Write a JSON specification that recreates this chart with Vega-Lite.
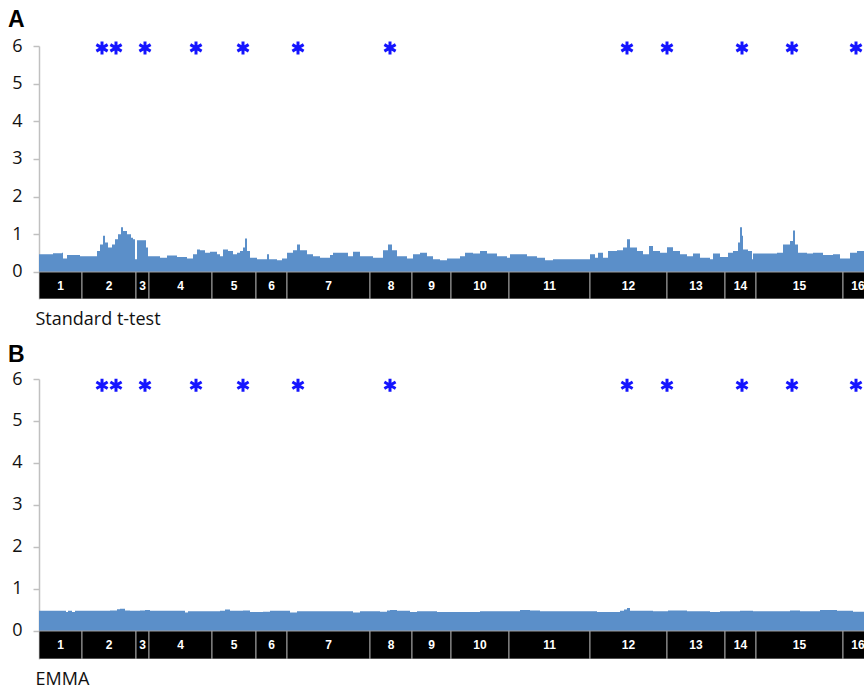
{
  "$schema": "https://vega.github.io/schema/vega-lite/v6.json",
  "padding": {"left": 8, "top": 9, "right": 0, "bottom": 5},
  "background": "white",
  "config": {"view": {"stroke": null}, "font": "Open Sans"},
  "datasets": {
    "tA": [
      {"pos": 0, "lod": 0.47}, {"pos": 11, "lod": 0.47}, {"pos": 14, "lod": 0.5}, {"pos": 23, "lod": 0.51}, {"pos": 24, "lod": 0.36},
      {"pos": 28, "lod": 0.45}, {"pos": 41, "lod": 0.42}, {"pos": 51, "lod": 0.42}, {"pos": 58, "lod": 0.56}, {"pos": 61, "lod": 0.73},
      {"pos": 64, "lod": 0.96}, {"pos": 66, "lod": 0.78}, {"pos": 69, "lod": 0.65}, {"pos": 73, "lod": 0.73}, {"pos": 76, "lod": 0.87},
      {"pos": 79, "lod": 1.0}, {"pos": 82, "lod": 1.19}, {"pos": 84, "lod": 1.09}, {"pos": 88, "lod": 1.0}, {"pos": 92, "lod": 0.91},
      {"pos": 94, "lod": 0.87}, {"pos": 96, "lod": 0.34}, {"pos": 98, "lod": 0.84}, {"pos": 104, "lod": 0.84}, {"pos": 107, "lod": 0.65},
      {"pos": 109, "lod": 0.42}, {"pos": 114, "lod": 0.42}, {"pos": 121, "lod": 0.38}, {"pos": 128, "lod": 0.44}, {"pos": 138, "lod": 0.4},
      {"pos": 148, "lod": 0.36}, {"pos": 154, "lod": 0.47}, {"pos": 158, "lod": 0.6}, {"pos": 161, "lod": 0.58}, {"pos": 166, "lod": 0.51},
      {"pos": 171, "lod": 0.54}, {"pos": 178, "lod": 0.47}, {"pos": 181, "lod": 0.42}, {"pos": 184, "lod": 0.6}, {"pos": 189, "lod": 0.56},
      {"pos": 194, "lod": 0.47}, {"pos": 198, "lod": 0.51}, {"pos": 201, "lod": 0.56}, {"pos": 204, "lod": 0.65}, {"pos": 206, "lod": 0.89},
      {"pos": 208, "lod": 0.56}, {"pos": 211, "lod": 0.38}, {"pos": 218, "lod": 0.34}, {"pos": 226, "lod": 0.34}, {"pos": 228, "lod": 0.47},
      {"pos": 230, "lod": 0.34}, {"pos": 238, "lod": 0.31}, {"pos": 243, "lod": 0.36}, {"pos": 248, "lod": 0.51}, {"pos": 254, "lod": 0.58},
      {"pos": 258, "lod": 0.73}, {"pos": 261, "lod": 0.58}, {"pos": 268, "lod": 0.47}, {"pos": 274, "lod": 0.42}, {"pos": 281, "lod": 0.38},
      {"pos": 291, "lod": 0.45}, {"pos": 294, "lod": 0.51}, {"pos": 308, "lod": 0.51}, {"pos": 309, "lod": 0.42}, {"pos": 314, "lod": 0.54},
      {"pos": 321, "lod": 0.42}, {"pos": 334, "lod": 0.38}, {"pos": 344, "lod": 0.58}, {"pos": 349, "lod": 0.73}, {"pos": 353, "lod": 0.58},
      {"pos": 358, "lod": 0.42}, {"pos": 368, "lod": 0.36}, {"pos": 374, "lod": 0.47}, {"pos": 381, "lod": 0.51}, {"pos": 388, "lod": 0.42},
      {"pos": 394, "lod": 0.34}, {"pos": 401, "lod": 0.31}, {"pos": 408, "lod": 0.36}, {"pos": 421, "lod": 0.42}, {"pos": 426, "lod": 0.51},
      {"pos": 434, "lod": 0.49}, {"pos": 441, "lod": 0.56}, {"pos": 448, "lod": 0.49}, {"pos": 458, "lod": 0.42}, {"pos": 468, "lod": 0.38},
      {"pos": 471, "lod": 0.47}, {"pos": 488, "lod": 0.42}, {"pos": 498, "lod": 0.38}, {"pos": 506, "lod": 0.31}, {"pos": 514, "lod": 0.34},
      {"pos": 531, "lod": 0.34}, {"pos": 548, "lod": 0.34}, {"pos": 551, "lod": 0.47}, {"pos": 556, "lod": 0.38}, {"pos": 559, "lod": 0.51},
      {"pos": 564, "lod": 0.38}, {"pos": 569, "lod": 0.56}, {"pos": 578, "lod": 0.58}, {"pos": 584, "lod": 0.65}, {"pos": 588, "lod": 0.87},
      {"pos": 591, "lod": 0.65}, {"pos": 598, "lod": 0.56}, {"pos": 604, "lod": 0.47}, {"pos": 610, "lod": 0.69}, {"pos": 614, "lod": 0.56},
      {"pos": 621, "lod": 0.51}, {"pos": 628, "lod": 0.66}, {"pos": 634, "lod": 0.56}, {"pos": 641, "lod": 0.47}, {"pos": 648, "lod": 0.42},
      {"pos": 654, "lod": 0.49}, {"pos": 661, "lod": 0.38}, {"pos": 671, "lod": 0.34}, {"pos": 674, "lod": 0.49}, {"pos": 681, "lod": 0.4},
      {"pos": 689, "lod": 0.51}, {"pos": 694, "lod": 0.56}, {"pos": 699, "lod": 0.78}, {"pos": 701, "lod": 1.19}, {"pos": 703, "lod": 0.96},
      {"pos": 704, "lod": 0.6}, {"pos": 709, "lod": 0.56}, {"pos": 713, "lod": 0.34}, {"pos": 714, "lod": 0.49}, {"pos": 728, "lod": 0.49},
      {"pos": 738, "lod": 0.51}, {"pos": 744, "lod": 0.73}, {"pos": 751, "lod": 0.82}, {"pos": 754, "lod": 1.1}, {"pos": 756, "lod": 0.73},
      {"pos": 759, "lod": 0.51}, {"pos": 768, "lod": 0.49}, {"pos": 774, "lod": 0.51}, {"pos": 784, "lod": 0.45}, {"pos": 794, "lod": 0.47},
      {"pos": 801, "lod": 0.36}, {"pos": 811, "lod": 0.51}, {"pos": 818, "lod": 0.56}, {"pos": 825, "lod": 0.55}
    ],
    "eB": [
      {"pos": 0, "lod": 0.48}, {"pos": 24, "lod": 0.48}, {"pos": 27, "lod": 0.45}, {"pos": 29, "lod": 0.48}, {"pos": 33, "lod": 0.45},
      {"pos": 36, "lod": 0.48}, {"pos": 71, "lod": 0.49}, {"pos": 78, "lod": 0.52}, {"pos": 81, "lod": 0.53}, {"pos": 86, "lod": 0.49},
      {"pos": 91, "lod": 0.48}, {"pos": 101, "lod": 0.49}, {"pos": 106, "lod": 0.5}, {"pos": 111, "lod": 0.48}, {"pos": 143, "lod": 0.48},
      {"pos": 146, "lod": 0.44}, {"pos": 149, "lod": 0.47}, {"pos": 174, "lod": 0.47}, {"pos": 181, "lod": 0.48}, {"pos": 186, "lod": 0.51},
      {"pos": 191, "lod": 0.48}, {"pos": 204, "lod": 0.49}, {"pos": 211, "lod": 0.45}, {"pos": 224, "lod": 0.46}, {"pos": 231, "lod": 0.48},
      {"pos": 248, "lod": 0.48}, {"pos": 251, "lod": 0.44}, {"pos": 258, "lod": 0.47}, {"pos": 311, "lod": 0.47}, {"pos": 314, "lod": 0.44},
      {"pos": 321, "lod": 0.47}, {"pos": 341, "lod": 0.46}, {"pos": 348, "lod": 0.49}, {"pos": 351, "lod": 0.5}, {"pos": 358, "lod": 0.48},
      {"pos": 371, "lod": 0.45}, {"pos": 378, "lod": 0.47}, {"pos": 398, "lod": 0.45}, {"pos": 421, "lod": 0.45}, {"pos": 441, "lod": 0.47},
      {"pos": 461, "lod": 0.47}, {"pos": 481, "lod": 0.5}, {"pos": 491, "lod": 0.49}, {"pos": 501, "lod": 0.47}, {"pos": 531, "lod": 0.47},
      {"pos": 558, "lod": 0.45}, {"pos": 581, "lod": 0.48}, {"pos": 585, "lod": 0.51}, {"pos": 588, "lod": 0.55}, {"pos": 591, "lod": 0.48},
      {"pos": 614, "lod": 0.47}, {"pos": 629, "lod": 0.49}, {"pos": 648, "lod": 0.47}, {"pos": 671, "lod": 0.45}, {"pos": 681, "lod": 0.47},
      {"pos": 701, "lod": 0.48}, {"pos": 714, "lod": 0.47}, {"pos": 751, "lod": 0.49}, {"pos": 761, "lod": 0.47}, {"pos": 781, "lod": 0.5},
      {"pos": 798, "lod": 0.48}, {"pos": 814, "lod": 0.46}, {"pos": 825, "lod": 0.47}
    ],
    "chroms": [
      {"chr": "1", "start": 0, "end": 43}, {"chr": "2", "start": 43, "end": 97}, {"chr": "3", "start": 97, "end": 110},
      {"chr": "4", "start": 110, "end": 173}, {"chr": "5", "start": 173, "end": 217}, {"chr": "6", "start": 217, "end": 248},
      {"chr": "7", "start": 248, "end": 331}, {"chr": "8", "start": 331, "end": 373}, {"chr": "9", "start": 373, "end": 412},
      {"chr": "10", "start": 412, "end": 470}, {"chr": "11", "start": 470, "end": 551}, {"chr": "12", "start": 551, "end": 628},
      {"chr": "13", "start": 628, "end": 686}, {"chr": "14", "start": 686, "end": 717}, {"chr": "15", "start": 717, "end": 804},
      {"chr": "16", "start": 804, "end": 834}
    ],
    "stars": [
      {"pos": 63}, {"pos": 77}, {"pos": 106}, {"pos": 157}, {"pos": 204}, {"pos": 259},
      {"pos": 351}, {"pos": 588}, {"pos": 628}, {"pos": 703}, {"pos": 753}, {"pos": 817}
    ]
  },
  "spacing": 80,
  "bounds": "flush",
  "vconcat": [
    {
      "width": 825,
      "height": 253,
      "title": {"text": "A", "anchor": "start", "frame": "group", "dx": -31, "offset": 3, "fontSize": 23, "fontWeight": "bold", "font": "Liberation Sans", "color": "#000"},
      "layer": [
        {
          "data": {"name": "tA"},
          "mark": {"type": "area", "fill": "#5b8fc9", "interpolate": "step-after", "clip": true},
          "encoding": {
            "x": {"field": "pos", "type": "quantitative", "scale": {"domain": [0, 825], "nice": false, "zero": false},
              "axis": {"domain": false, "ticks": false, "labels": false, "grid": false, "title": "Standard t-test", "titleAlign": "left", "titleAnchor": "start", "titleX": -4, "titleBaseline": "top", "titlePadding": 11, "titleFontSize": 18, "titleFontWeight": "normal", "titleFont": "Open Sans", "titleColor": "#111"}},
            "y": {"field": "lod", "type": "quantitative", "scale": {"domain": [-0.717, 6], "nice": false, "zero": false},
              "axis": {"values": [0, 1, 2, 3, 4, 5, 6], "grid": false, "title": null, "domainColor": "#c0c0c0", "domainWidth": 1.5, "tickColor": "#c0c0c0", "tickSize": 6, "tickWidth": 1.5, "labelFontSize": 18, "labelColor": "#111", "labelPadding": 11, "labelFont": "Open Sans"}}
          }
        },
        {
          "data": {"name": "chroms"},
          "mark": {"type": "rect", "fill": "#000", "stroke": "#a0a0a0", "strokeWidth": 1, "clip": true},
          "encoding": {
            "x": {"field": "start", "type": "quantitative"},
            "x2": {"field": "end"},
            "y": {"datum": 0, "type": "quantitative"},
            "y2": {"datum": -0.717}
          }
        },
        {
          "data": {"name": "chroms"},
          "transform": [{"calculate": "(datum.start + datum.end) / 2", "as": "mid"}],
          "mark": {"type": "text", "fill": "#ffffff", "fontSize": 12, "fontWeight": "bold", "font": "Liberation Sans", "baseline": "middle"},
          "encoding": {
            "x": {"field": "mid", "type": "quantitative"},
            "y": {"datum": -0.36, "type": "quantitative"},
            "text": {"field": "chr"}
          }
        },
        {
          "data": {"name": "stars"},
          "mark": {"type": "point", "shape": "M0,-1L0,1M-0.866,-0.5L0.866,0.5M-0.866,0.5L0.866,-0.5", "filled": false, "stroke": "#1414ff", "strokeWidth": 3, "size": 169, "opacity": 1},
          "encoding": {
            "x": {"field": "pos", "type": "quantitative"},
            "y": {"datum": 5.95, "type": "quantitative"}
          }
        }
      ]
    },
    {
      "width": 825,
      "height": 280,
      "title": {"text": "B", "anchor": "start", "frame": "group", "dx": -31, "offset": 3, "fontSize": 23, "fontWeight": "bold", "font": "Liberation Sans", "color": "#000"},
      "layer": [
        {
          "data": {"name": "eB"},
          "mark": {"type": "area", "fill": "#5b8fc9", "interpolate": "step-after", "clip": true},
          "encoding": {
            "x": {"field": "pos", "type": "quantitative", "scale": {"domain": [0, 825], "nice": false, "zero": false},
              "axis": {"domain": false, "ticks": false, "labels": false, "grid": false, "title": "EMMA", "titleAlign": "left", "titleAnchor": "start", "titleX": -4, "titleBaseline": "top", "titlePadding": 11, "titleFontSize": 18, "titleFontWeight": "normal", "titleFont": "Open Sans", "titleColor": "#111"}},
            "y": {"field": "lod", "type": "quantitative", "scale": {"domain": [-0.667, 6], "nice": false, "zero": false},
              "axis": {"values": [0, 1, 2, 3, 4, 5, 6], "grid": false, "title": null, "domainColor": "#c0c0c0", "domainWidth": 1.5, "tickColor": "#c0c0c0", "tickSize": 6, "tickWidth": 1.5, "labelFontSize": 18, "labelColor": "#111", "labelPadding": 11, "labelFont": "Open Sans"}}
          }
        },
        {
          "data": {"name": "chroms"},
          "mark": {"type": "rect", "fill": "#000", "stroke": "#a0a0a0", "strokeWidth": 1, "clip": true},
          "encoding": {
            "x": {"field": "start", "type": "quantitative"},
            "x2": {"field": "end"},
            "y": {"datum": 0, "type": "quantitative"},
            "y2": {"datum": -0.667}
          }
        },
        {
          "data": {"name": "chroms"},
          "transform": [{"calculate": "(datum.start + datum.end) / 2", "as": "mid"}],
          "mark": {"type": "text", "fill": "#ffffff", "fontSize": 12, "fontWeight": "bold", "font": "Liberation Sans", "baseline": "middle"},
          "encoding": {
            "x": {"field": "mid", "type": "quantitative"},
            "y": {"datum": -0.333, "type": "quantitative"},
            "text": {"field": "chr"}
          }
        },
        {
          "data": {"name": "stars"},
          "mark": {"type": "point", "shape": "M0,-1L0,1M-0.866,-0.5L0.866,0.5M-0.866,0.5L0.866,-0.5", "filled": false, "stroke": "#1414ff", "strokeWidth": 3, "size": 169, "opacity": 1},
          "encoding": {
            "x": {"field": "pos", "type": "quantitative"},
            "y": {"datum": 5.85, "type": "quantitative"}
          }
        }
      ]
    }
  ]
}
